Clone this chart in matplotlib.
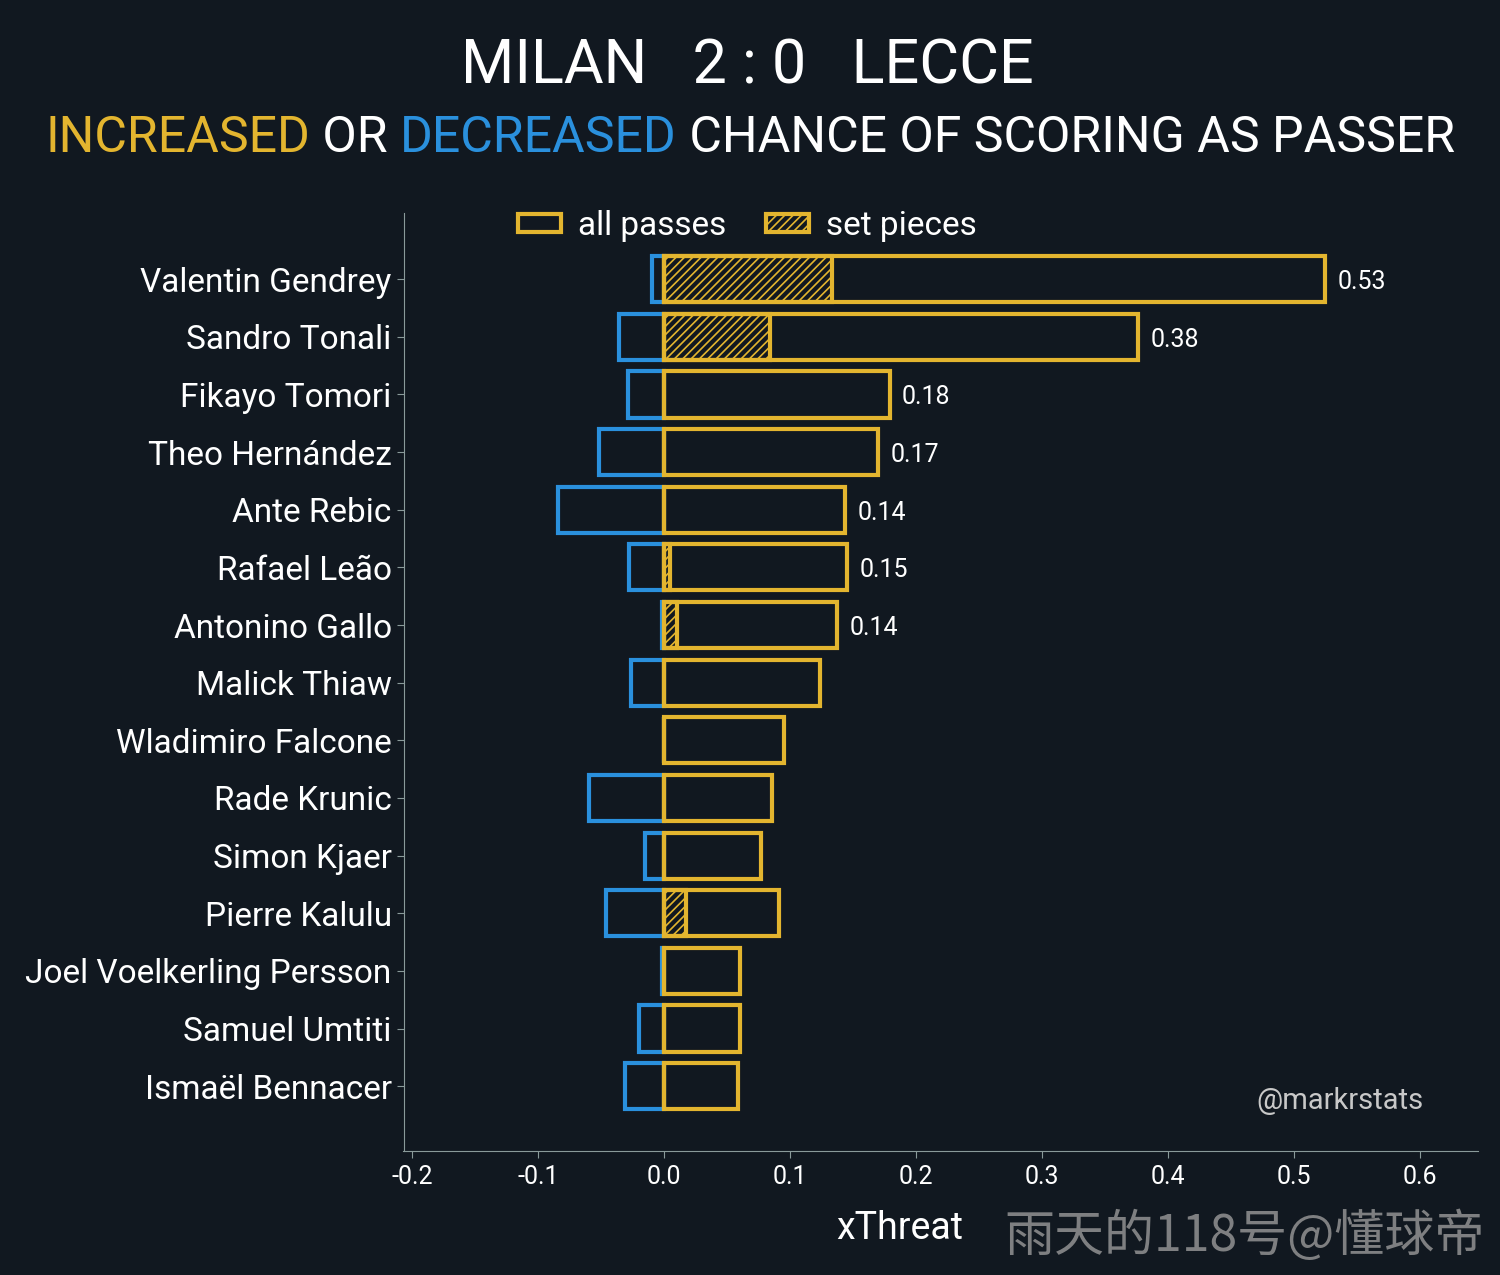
import matplotlib
matplotlib.use("Agg")
import matplotlib.pyplot as plt

players = ["Valentin Gendrey","Sandro Tonali","Fikayo Tomori","Theo Hernández","Ante Rebic",
           "Rafael Leão","Antonino Gallo","Malick Thiaw","Wladimiro Falcone","Rade Krunic",
           "Simon Kjaer","Pierre Kalulu","Joel Voelkerling Persson","Samuel Umtiti","Ismaël Bennacer"]
increased = [0.525,0.376,0.179,0.170,0.144,0.145,0.137,0.124,0.095,0.086,0.077,0.091,0.060,0.060,0.059]
decreased = [-0.010,-0.036,-0.029,-0.052,-0.084,-0.028,-0.002,-0.026,0.0,-0.060,-0.015,-0.046,-0.002,-0.020,-0.031]
set_pieces = [0.133,0.084,0,0,0,0.005,0.010,0,0,0,0,0.017,0,0,0]
value_labels = ["0.53","0.38","0.18","0.17","0.14","0.15","0.14"]

BG = "#111820"
GOLD = "#e3b52f"
BLUE = "#2a90dd"
FG = "white"
plt.rcParams['font.family'] = ['Roboto', 'DejaVu Sans']
plt.rcParams['hatch.color'] = GOLD
plt.rcParams['hatch.linewidth'] = 1.2

fig = plt.figure(figsize=(15, 12.75), dpi=100, facecolor=BG)
ax = fig.add_axes([0.269, 0.097, 0.716, 0.736], facecolor=BG)
y = list(range(len(players)))
ax.barh(y, decreased, height=0.8, facecolor="none", edgecolor=BLUE, linewidth=3)
ax.barh(y, increased, height=0.8, facecolor="none", edgecolor=GOLD, linewidth=3, label="all passes")
ax.barh(y, set_pieces, height=0.8, facecolor="none", edgecolor=GOLD, linewidth=3, hatch="////", label="set pieces")
for i, lab in enumerate(value_labels):
    ax.text(increased[i] + 0.01, i + 0.05, lab, color=FG, fontsize=18, va="center", ha="left")

ax.set_yticks(y)
ax.set_yticklabels(players, fontsize=24, color=FG)
ax.set_ylim(14 + 1.13, -1.15)
ax.set_xlim(-0.207, 0.646)
ax.set_xticks([-0.2,-0.1,0.0,0.1,0.2,0.3,0.4,0.5,0.6])
ax.set_xticklabels(["-0.2","-0.1","0.0","0.1","0.2","0.3","0.4","0.5","0.6"], fontsize=18, color=FG)
ax.tick_params(colors="#8a9a9a", labelcolor=FG, length=5)
ax.tick_params(axis="x", pad=5)
ax.set_xlabel("xThreat", fontsize=27, color=FG)
ax.xaxis.set_label_coords(0.462, -0.062)
for s in ["top","right"]:
    ax.spines[s].set_visible(False)
for s in ["left","bottom"]:
    ax.spines[s].set_color("#8a9a9a")

leg = ax.legend(loc="upper center", bbox_to_anchor=(0.32, 1.035), ncol=2, frameon=False,
                fontsize=24, labelcolor=FG, handlelength=1.3, handleheight=0.45,
                handletextpad=0.5, columnspacing=1.2)

ax.text(0.95, 0.045, "@markrstats", transform=ax.transAxes, fontsize=21, color="#c8c8c8", ha="right")

fig.text(0.498, 0.948, "MILAN   2 : 0   LECCE", fontsize=44, color=FG, ha="center", va="center")

parts = [("INCREASED", GOLD), (" OR ", FG), ("DECREASED", BLUE), (" CHANCE OF SCORING AS PASSER", FG)]
r = fig.canvas.get_renderer()
texts = []
for s, c in parts:
    t = fig.text(0, 0.892, s, fontsize=36, color=c, va="center", ha="left")
    texts.append(t)
widths = [t.get_window_extent(r).width for t in texts]
total = sum(widths)
x0 = (1500 - total) / 2
for t, w in zip(texts, widths):
    t.set_x(x0 / 1500)
    x0 += w

fig.text(0.99, 0.03, "雨天的118号@懂球帝", fontsize=36, color="#9a9a9a", ha="right", va="center",
         family=['Noto Sans CJK SC', 'DejaVu Sans'], alpha=0.8)

fig.savefig("out.png", dpi=100, facecolor=BG)
